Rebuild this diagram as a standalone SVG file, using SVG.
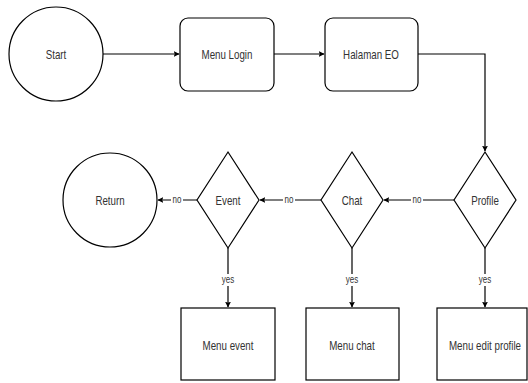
<svg xmlns="http://www.w3.org/2000/svg" width="528" height="383" viewBox="0 0 528 383">
<style>
.s{fill:#fff;stroke:#000;stroke-width:1.2}
.t{font-family:"Liberation Sans",Arial,sans-serif;font-size:13px;fill:#333;text-anchor:middle;dominant-baseline:central}
.l{font-family:"Liberation Sans",Arial,sans-serif;font-size:10px;fill:#333;text-anchor:middle;dominant-baseline:central}
.c{fill:none;stroke:#000;stroke-width:1.2}
.bg{fill:#fff}
</style>
<defs>
<marker id="a" viewBox="0 0 10 10" refX="9" refY="5" markerWidth="6" markerHeight="6" orient="auto" markerUnits="userSpaceOnUse"><path d="M0,0 L10,5 L0,10 L2,5 z" fill="#000"/></marker>
</defs>
<rect width="528" height="383" fill="#fff"/>
<g id="connectors">
<path class="c" d="M103,54 H179" marker-end="url(#a)"/>
<path class="c" d="M274,54 H324" marker-end="url(#a)"/>
<path class="c" d="M418,54 H485 V151" marker-end="url(#a)"/>
<path class="c" d="M454,200 H384" marker-end="url(#a)"/>
<path class="c" d="M321,200 H260" marker-end="url(#a)"/>
<path class="c" d="M197,200 H158" marker-end="url(#a)"/>
<path class="c" d="M228,248 V307" marker-end="url(#a)"/>
<path class="c" d="M352,248 V307" marker-end="url(#a)"/>
<path class="c" d="M485,248 V307" marker-end="url(#a)"/>
<rect class="bg" x="411" y="194" width="12" height="12"/>
<text class="l" transform="translate(417,200) scale(0.8,1)">no</text>
<rect class="bg" x="283" y="194" width="12" height="12"/>
<text class="l" transform="translate(289,200) scale(0.8,1)">no</text>
<rect class="bg" x="171" y="194" width="12" height="12"/>
<text class="l" transform="translate(177,200) scale(0.8,1)">no</text>
<rect class="bg" x="220" y="274" width="16" height="12"/>
<text class="l" transform="translate(228,280) scale(0.8,1)">yes</text>
<rect class="bg" x="344" y="274" width="16" height="12"/>
<text class="l" transform="translate(352,280) scale(0.8,1)">yes</text>
<rect class="bg" x="477" y="274" width="16" height="12"/>
<text class="l" transform="translate(485,280) scale(0.8,1)">yes</text>
</g>
<g id="start"><circle class="s" cx="56" cy="54" r="47"/><text class="t" transform="translate(56,54) scale(0.75,1)">Start</text></g>
<g id="menu-login"><rect class="s" x="180" y="18" width="94" height="73" rx="8"/><text class="t" transform="translate(227,54) scale(0.75,1)">Menu Login</text></g>
<g id="halaman-eo"><rect class="s" x="325" y="18" width="93" height="73" rx="8"/><text class="t" transform="translate(371,54) scale(0.75,1)">Halaman EO</text></g>
<g id="profile"><path class="s" d="M485,152 L516,200 L485,248 L454,200 Z"/><text class="t" transform="translate(485,200) scale(0.75,1)">Profile</text></g>
<g id="chat"><path class="s" d="M352,152 L383,200 L352,248 L321,200 Z"/><text class="t" transform="translate(352,200) scale(0.75,1)">Chat</text></g>
<g id="event"><path class="s" d="M228,152 L259,200 L228,248 L197,200 Z"/><text class="t" transform="translate(228,200) scale(0.75,1)">Event</text></g>
<g id="return"><circle class="s" cx="110" cy="200" r="47"/><text class="t" transform="translate(110,200) scale(0.75,1)">Return</text></g>
<g id="menu-event"><rect class="s" x="181" y="308" width="94" height="72"/><text class="t" transform="translate(228,345) scale(0.75,1)">Menu event</text></g>
<g id="menu-chat"><rect class="s" x="306" y="308" width="93" height="72"/><text class="t" transform="translate(352,345) scale(0.75,1)">Menu chat</text></g>
<g id="menu-edit-profile"><rect class="s" x="437" y="308" width="90" height="72"/><text class="t" transform="translate(485,345) scale(0.75,1)">Menu edit profile</text></g>
</svg>
